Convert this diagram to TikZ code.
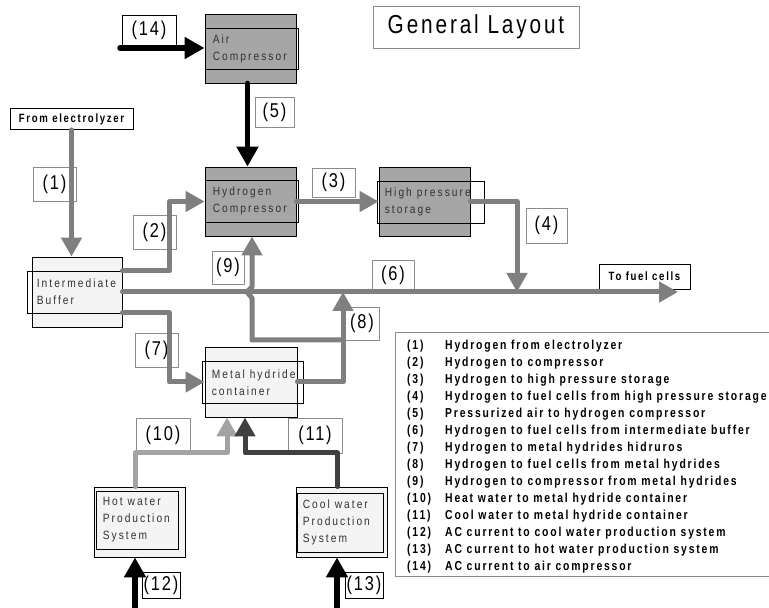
\documentclass[tikz,border=0pt]{standalone}
\usepackage{fontspec}
\setmainfont{Liberation Sans}
\newfontfamily\unitfont[FakeStretch=0.85,LetterSpace=17]{Liberation Sans}
\newfontfamily\tagfont[FakeStretch=0.82,LetterSpace=9]{Liberation Sans}
\newfontfamily\keyfont[FakeStretch=0.8,LetterSpace=14]{Liberation Sans}
\newfontfamily\headfont[FakeStretch=0.8,LetterSpace=11]{Liberation Sans}
\usetikzlibrary{arrows.meta,positioning}

\definecolor{pipegray}{HTML}{7F7F7F}
\definecolor{unitgray}{HTML}{A6A6A6}
\definecolor{palefill}{HTML}{F4F4F4}
\definecolor{hotpipe}{HTML}{A3A3A3}
\definecolor{coolpipe}{HTML}{404040}
\definecolor{tagline}{HTML}{8C8C8C}
\definecolor{unitink}{HTML}{333333}

\begin{document}
\begin{tikzpicture}[x=1pt,y=1pt,
	unit/.style={draw=black, line width=0.9pt, inner sep=0pt},
	darkunit/.style={unit, fill=unitgray},
	lightunit/.style={unit, fill=palefill},
	band/.style={draw=black, line width=0.8pt, inner sep=0pt},
	unittext/.style={inner sep=0pt, align=left, text=unitink, font=\unitfont\fontsize{12}{17}\selectfont},
	tag/.style={fill=white, line width=0.8pt, inner sep=0pt, font=\tagfont\fontsize{20}{20}\selectfont},
	keytext/.style={inner sep=0pt, font=\keyfont\bfseries\fontsize{13}{13}\selectfont},
	endbox/.style={draw=black, line width=0.8pt, inner sep=0pt, font=\keyfont\bfseries\fontsize{12}{12}\selectfont},
	pipe/.style={pipegray, line width=5pt, line cap=round, line join=round, -{Triangle[length=19pt,width=20pt]}},
	power/.style={black, line width=5.5pt, line cap=round, -{Triangle[length=20pt,width=21pt]}}]
	\fill[white] (0,0) rectangle (769,608);
	\useasboundingbox (0,0) rectangle (769,608);

	% title
	\node[draw=tagline, line width=0.8pt, minimum width=206pt, minimum height=42pt, font=\headfont\fontsize{26}{26}\selectfont] (title) at (476,581) {General Layout};

	% units (outer box, inner band, text)
	\node[darkunit, minimum width=91pt, minimum height=69pt] (airc) at (250.5,559.5) {};
	\node[band, minimum width=93pt, minimum height=41pt] (aircband) at (251.5,559.5) {};
	\node[unittext, right=8pt of aircband.west] (airctext) {Air\\Compressor};

	\node[darkunit, minimum width=91pt, minimum height=69pt] (hc) at (250.5,406.5) {};
	\node[band, minimum width=93pt, minimum height=42pt] (hcband) at (251.5,407) {};
	\node[unittext, right=8pt of hcband.west] (hctext) {Hydrogen\\Compressor};

	\node[darkunit, minimum width=91pt, minimum height=69pt] (hps) at (424.5,406.5) {};
	\node[band, minimum width=107pt, minimum height=42pt] (hpsband) at (430.5,406) {};
	\node[unittext, right=8pt of hpsband.west] (hpstext) {High pressure\\storage};

	\node[lightunit, minimum width=90pt, minimum height=70pt] (buf) at (77,316) {};
	\node[band, minimum width=95pt, minimum height=42pt] (bufband) at (74.5,316) {};
	\node[unittext, right=10pt of bufband.west] (buftext) {Intermediate\\Buffer};

	\node[lightunit, minimum width=92pt, minimum height=70pt] (mh) at (251,226) {};
	\node[band, minimum width=101pt, minimum height=42pt] (mhband) at (252.5,226) {};
	\node[unittext, right=10pt of mhband.west, yshift=-1pt] (mhtext) {Metal hydride\\container};

	\node[lightunit, minimum width=91pt, minimum height=70pt] (hw) at (139.5,86) {};
	\node[band, minimum width=82pt, minimum height=58pt] (hwband) at (137,88) {};
	\node[unittext, right=7pt of hwband.west] (hwtext) {Hot water\\Production\\System};

	\node[lightunit, minimum width=91pt, minimum height=70pt] (cw) at (341.5,86) {};
	\node[band, minimum width=86pt, minimum height=59pt] (cwband) at (340,85.5) {};
	\node[unittext, right=6pt of cwband.west] (cwtext) {Cool water\\Production\\System};

	% end boxes
	\node[endbox, minimum width=123pt, minimum height=21pt] (fe) at (71.5,489) {From electrolyzer};
	\node[endbox, minimum width=91pt, minimum height=25pt] (tofc) at (644.5,331.5) {To fuel cells};

	% stream tags
	\foreach \tagno/\tx/\ty/\tw/\th/\tc in {1/54.5/424/43/34/tagline, 2/154.5/376/43/34/tagline,
		3/333.5/425.5/43/29/tagline, 4/546.5/382.5/41/35/tagline, 5/274.5/496/39/30/tagline,
		6/393/333/42/30/tagline, 7/156.5/258/43/34/tagline, 8/362/284.5/34/33/tagline,
		9/228/340.5/32/33/tagline, 10/163/172.5/54/35/tagline, 11/315/172.5/54/35/tagline,
		12/161/23/38/26/black, 13/364/23/38/26/black, 14/149/578/54/30/black}
	{
		\node[tag, draw=\tc, minimum width=\tw pt, minimum height=\th pt] (tag\tagno) at (\tx,\ty) {(\tagno)};
	}

	% junctions and free ends
	\coordinate (tap4) at (517,316);
	\coordinate (tap8) at (343,316);
	\coordinate (tee9) at (343,268);
	\coordinate (hop9) at (252,316);
	\coordinate (fcend) at (678,316);
	\coordinate (bend10) at (227,155);
	\coordinate (bend11) at (245,155);
	\coordinate (ac12) at (135,0);
	\coordinate (ac13) at (337,0);
	\coordinate (ac14) at (120,560);

	% hydrogen lines
	\draw[pipe] (fe.south) -- (fe.south |- buf.north);
	\draw[pipe] ([yshift=21pt]buf.east) -| ([xshift=-35pt]hc.west) -- (hc.west);
	\draw[pipe] (hc.east) -- (hps.west);
	\draw[pipe] (hps.east) -| (tap4);
	\draw[pipe] (buf.east) -- (fcend);
	\draw[pipe] ([yshift=-21pt]buf.east) -| ([xshift=-35pt]mh.west) -- (mh.west);
	\draw[pipe] (mh.east) -| (tap8);
	\draw[pipe] (tee9) -| ([yshift=-6pt]hop9) -- ([xshift=-5pt]hop9) -- ([yshift=5pt]hop9) -- (hop9 |- hc.south);
	% water lines
	\draw[pipe, hotpipe] ([xshift=-4pt]hw.north) |- (bend10) -- (bend10 |- mh.south);
	\draw[pipe, coolpipe] ([xshift=-4pt]cw.north) |- (bend11) -- (bend11 |- mh.south);
	% air and power
	\draw[power] ([xshift=-3pt]airc.south) -- ([xshift=-3pt]hc.north);
	\draw[power] (ac14) -- (ac14 -| airc.west);
	\draw[power] (ac12) -- (ac12 |- hw.south);
	\draw[power] (ac13) -- (ac13 |- cw.south);

	% key
	\draw[tagline, line width=1pt] (769,275) -| (395,31) -- (769,31);
	\foreach \entry [count=\row] in {Hydrogen from electrolyzer, Hydrogen to compressor,
		Hydrogen to high pressure storage, Hydrogen to fuel cells from high pressure storage,
		Pressurized air to hydrogen compressor, Hydrogen to fuel cells from intermediate buffer,
		Hydrogen to metal hydrides hidruros, Hydrogen to fuel cells from metal hydrides,
		Hydrogen to compressor from metal hydrides, Heat water to metal hydride container,
		Cool water to metal hydride container, AC current to cool water production system,
		AC current to hot water production system, AC current to air compressor}
	{
		\node[keytext, anchor=base west] (keyno\row) at (407,275-17*\row) {(\row)};
		\node[keytext, anchor=base west] (key\row) at (445,275-17*\row) {\entry};
	}
\end{tikzpicture}
\end{document}
